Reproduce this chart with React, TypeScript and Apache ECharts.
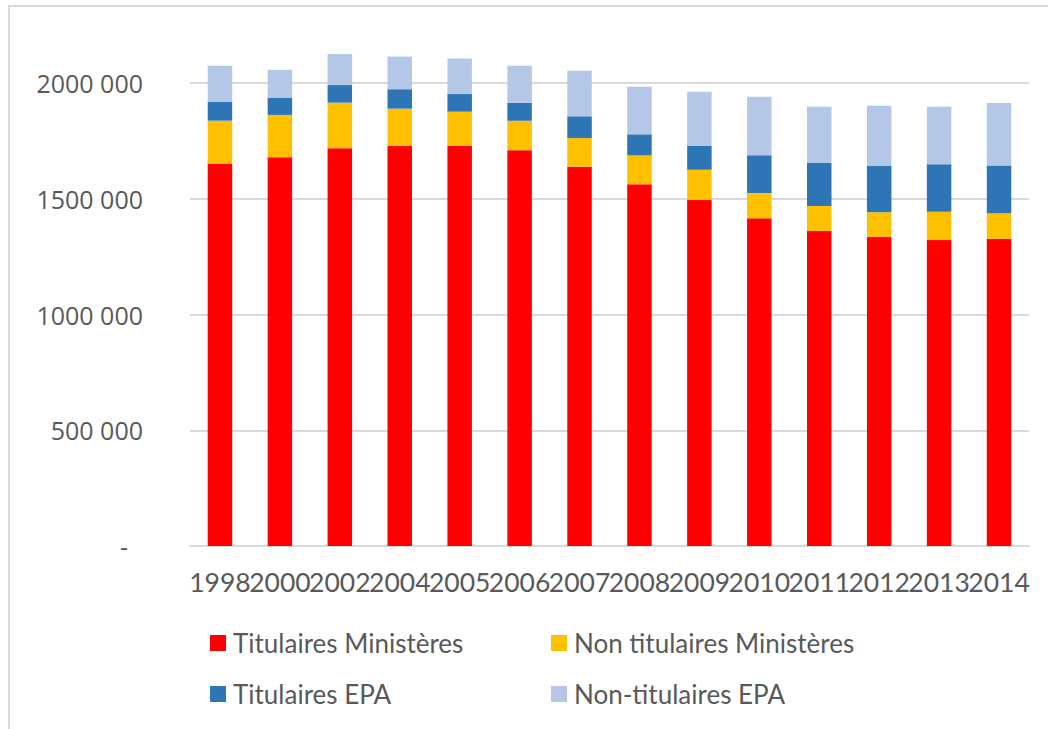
import React, { useEffect, useRef } from "react";
import * as echarts from "echarts";

const years = ["1998", "2000", "2002", "2004", "2005", "2006", "2007", "2008", "2009", "2010", "2011", "2012", "2013", "2014"];
const titulairesMinisteres = [1652000, 1680000, 1719000, 1730000, 1729000, 1710000, 1639000, 1563000, 1495000, 1416000, 1361000, 1335000, 1322000, 1327000];
const nonTitulairesMinisteres = [186000, 183000, 197000, 160000, 148000, 128000, 124000, 125000, 131000, 109000, 108000, 107000, 122000, 111000];
const titulairesEPA = [81000, 75000, 76000, 84000, 76000, 78000, 94000, 91000, 104000, 164000, 186000, 200000, 206000, 206000];
const nonTitulairesEPA = [156000, 120000, 134000, 141000, 154000, 159000, 197000, 206000, 233000, 252000, 243000, 261000, 248000, 270000];

const seriesNames = ["Titulaires Ministères", "Non titulaires Ministères", "Titulaires EPA", "Non-titulaires EPA"];
const seriesColors = ["#FF0000", "#FFC000", "#2E75B6", "#B4C7E7"];
const seriesData = [titulairesMinisteres, nonTitulairesMinisteres, titulairesEPA, nonTitulairesEPA];

const textColor = "#595959";
const catFont = "Lato, 'Open Sans', sans-serif";

export default function App() {
  const ref = useRef<HTMLDivElement>(null);
  useEffect(() => {
    document.body.style.margin = "0";
    if (!ref.current) return;
    const chart = echarts.init(ref.current, null, { renderer: "svg" });
    const legendPos = [
      { left: 210, top: 630 },
      { left: 551, top: 630 },
      { left: 210, top: 681 },
      { left: 551, top: 681 },
    ];
    chart.setOption({
      animation: false,
      backgroundColor: "#ffffff",
      graphic: [
        {
          type: "rect",
          shape: { x: 9, y: 6, width: 1200, height: 900 },
          style: { fill: "none", stroke: "#d9d9d9", lineWidth: 2 },
          silent: true,
        },
      ],
      grid: { left: 190, right: 19, top: -32.5, bottom: 183, containLabel: false, outerBoundsMode: "none" },
      legend: seriesNames.map((n, i) => ({
        data: [n],
        left: legendPos[i].left,
        top: legendPos[i].top,
        padding: 0,
        itemWidth: 16,
        itemHeight: 16,
        icon: "rect",
        selectedMode: false,
        textStyle: { color: textColor, fontSize: 26, fontFamily: catFont, padding: [0, 0, 0, 2] },
      })),
      xAxis: {
        type: "category",
        data: years,
        axisLine: { show: true, lineStyle: { color: "#d9d9d9", width: 2 } },
        axisTick: { show: false },
        axisLabel: { interval: 0, color: textColor, fontSize: 26.5, fontFamily: catFont, margin: 22 },
      },
      yAxis: {
        type: "value",
        min: 0,
        max: 2500000,
        interval: 500000,
        axisLine: { show: false },
        axisTick: { show: false },
        splitLine: { lineStyle: { color: "#d9d9d9", width: 2 } },
        axisLabel: {
          color: textColor,
          fontSize: 25,
          fontFamily: "'Open Sans', sans-serif",
          margin: 47,
          formatter: (v: number) => {
            if (v === 0) return "{z|-}";
            if (v > 2000000) return "";
            const s = String(v);
            return s.slice(0, s.length - 3) + " " + s.slice(s.length - 3);
          },
          rich: {
            z: { color: textColor, fontSize: 25, fontFamily: "'Open Sans', sans-serif", padding: [0, 15, 0, 0] },
          },
        },
      },
      series: seriesNames.map((n, i) => ({
        name: n,
        type: "bar",
        stack: "total",
        barWidth: 24.5,
        data: seriesData[i],
        itemStyle: { color: seriesColors[i] },
      })),
    });
    return () => chart.dispose();
  }, []);
  return <div ref={ref} style={{ width: 1048, height: 729 }} />;
}
